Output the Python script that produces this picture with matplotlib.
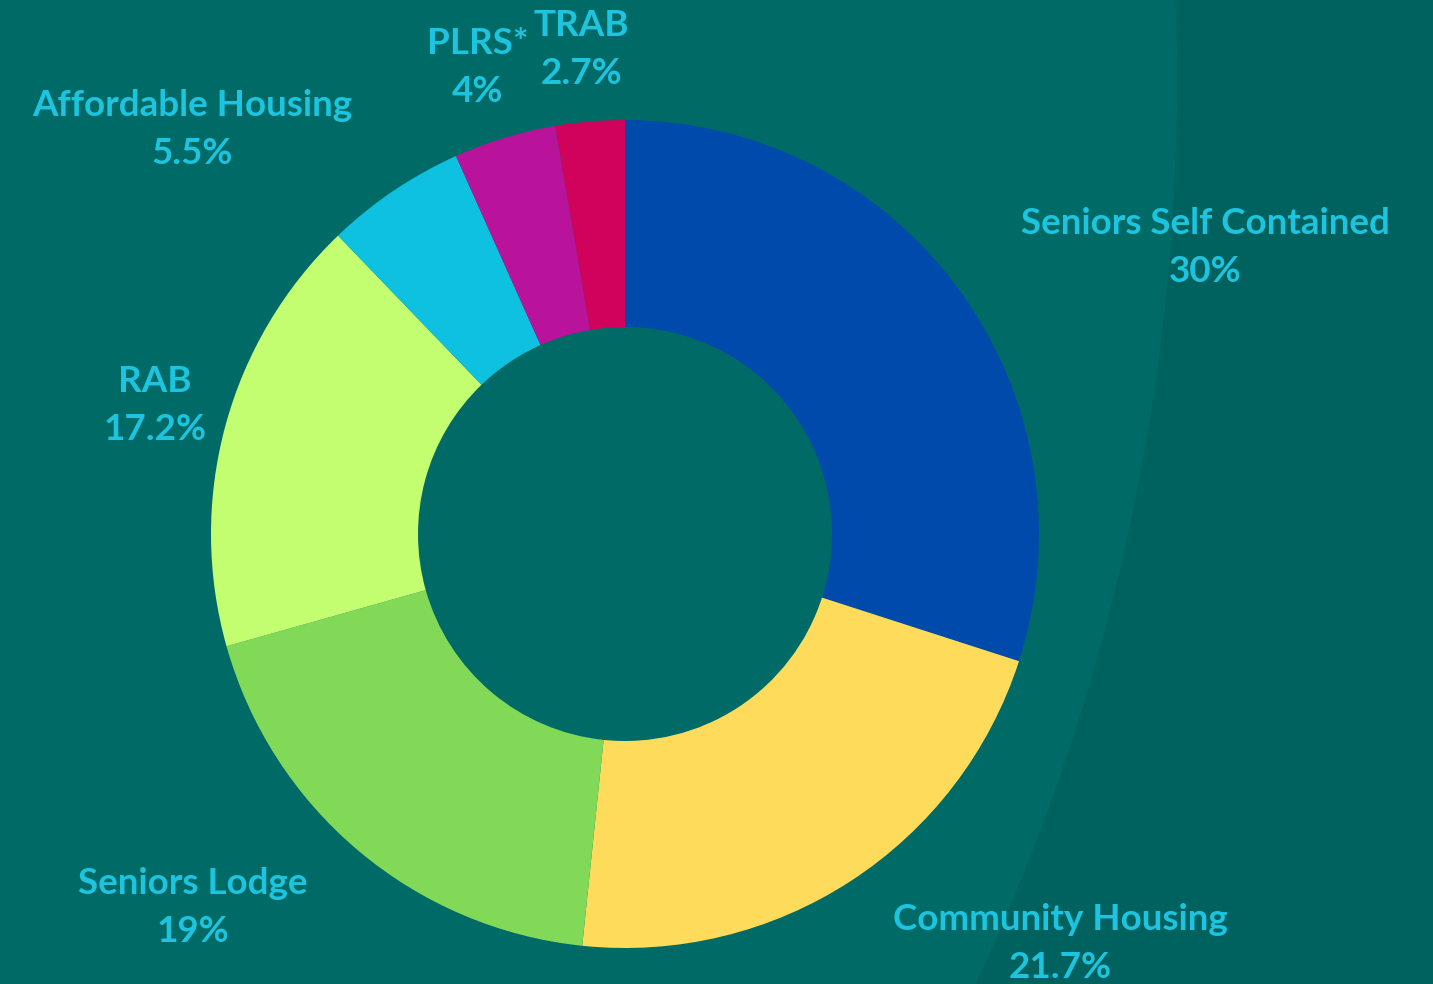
import matplotlib
matplotlib.use("Agg")
import matplotlib.pyplot as plt
from matplotlib.patches import Circle

# data
categories = ["Seniors Self Contained", "Community Housing", "Seniors Lodge",
              "RAB", "Affordable Housing", "PLRS*", "TRAB"]
shares = [30, 21.7, 19, 17.2, 5.5, 4, 2.7]
pct_labels = ["30%", "21.7%", "19%", "17.2%", "5.5%", "4%", "2.7%"]
colors = ["#004AAB", "#FEDB5B", "#82D957", "#C3FE71", "#0EC1E0", "#B9139B", "#D0025B"]

# label anchor points (pixel space, y measured from top)
label_pos = [(1205, 247), (1060, 943), (193, 908), (155, 405),
             (192, 130), (478, 68), (581, 49)]

W, H = 1433, 984
fig = plt.figure(figsize=(W / 100, H / 100), dpi=100, facecolor="#00625E")
ax = fig.add_axes([0, 0, 1, 1])
ax.set_facecolor("#00625E")

# lighter background panel (big arc on the right)
ax.add_patch(Circle((1177 - 2130, H - 80), 2130, color="#006B66", zorder=0, lw=0))

ax.pie(shares, colors=colors, center=(625, H - 534), radius=414,
       startangle=90, counterclock=False,
       wedgeprops=dict(width=207, linewidth=0))

txt_color = "#1CC4DF"
for name, pct, (x, y) in zip(categories, pct_labels, label_pos):
    ax.text(x, H - y + 24, name, ha="center", va="center", fontsize=26.5,
            fontweight="bold", family="Lato", color=txt_color)
    ax.text(x, H - y - 24, pct, ha="center", va="center", fontsize=26.5,
            fontweight="bold", family="Lato", color=txt_color)

ax.set_xlim(0, W)
ax.set_ylim(0, H)
ax.set_aspect("equal")
ax.axis("off")

fig.savefig("out.png", dpi=100, facecolor=fig.get_facecolor())
